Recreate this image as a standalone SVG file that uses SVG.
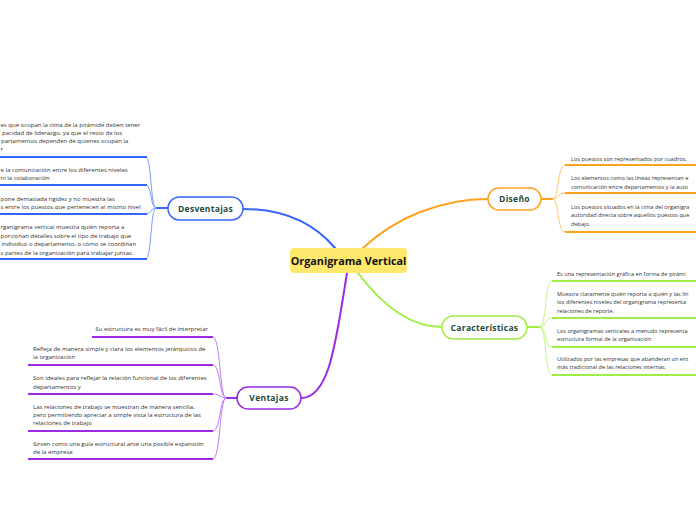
<svg xmlns="http://www.w3.org/2000/svg" width="696" height="520" viewBox="0 0 696 520">
<style>
.t{font-family:"Open Sans","Liberation Sans",sans-serif;font-size:6px;fill:#333333}
.r{font-size:5.6px}
.e{text-anchor:end}
.n{font-family:"Open Sans","Liberation Sans",sans-serif;font-size:8.5px;font-weight:bold;fill:#1b4a3c;text-anchor:middle;letter-spacing:0.3px}
.pill{fill:#ffffff;stroke-width:1.5}
.main{fill:none;stroke-width:2;stroke-linecap:round}
.sub{fill:none;stroke-width:1;stroke-linecap:round}
.ul{fill:none;stroke-width:1.8}
.b{stroke:#3366ff}.o{stroke:#ffa31f}.g{stroke:#a0ee44}.p{stroke:#9c2ae6}
.bl{stroke:#7c9cff}.ol{stroke:#ffc56e}.gl{stroke:#c3f58a}.pl{stroke:#c07bf0}
</style>
<rect width="696" height="520" fill="#ffffff"/>
<g id="connectors">
<path class="main b" d="M243,209 C290,209 318,228 335,248"/>
<path class="main o" d="M363,248 C395,218 440,199 488,199"/>
<path class="main g" d="M358,273 C382,305 410,327 442,327"/>
<path class="main p" d="M347,273 C336,340 330,398 301,398"/>
<path class="main b" d="M168,208 L156,208"/>
<path class="sub bl" d="M156,208 C150,208 152,157 146,157"/>
<path class="sub bl" d="M156,208 C150,208 152,185 146,185"/>
<path class="sub bl" d="M156,208 C150,208 152,214 146,214"/>
<path class="sub bl" d="M156,208 C150,208 152,259 146,259"/>
<path class="main o" d="M541,199 L553,199"/>
<path class="sub ol" d="M553,199 C559,199 557,165 565,165"/>
<path class="sub ol" d="M553,199 C559,199 557,193 565,193"/>
<path class="sub ol" d="M553,199 C559,199 557,232 565,232"/>
<path class="main g" d="M527,327 L540,327"/>
<path class="sub gl" d="M540,327 C547,327 544,281 552,281"/>
<path class="sub gl" d="M540,327 C547,327 544,318 552,318"/>
<path class="sub gl" d="M540,327 C547,327 544,347 552,347"/>
<path class="sub gl" d="M540,327 C547,327 544,375 552,375"/>
<path class="main p" d="M237,398 L226,398"/>
<path class="sub pl" d="M226,398 C219,398 221,337 213,337"/>
<path class="sub pl" d="M226,398 C219,398 221,365 213,365"/>
<path class="sub pl" d="M226,398 C219,398 221,394 213,394"/>
<path class="sub pl" d="M226,398 C219,398 221,431 213,431"/>
<path class="sub pl" d="M226,398 C219,398 221,459 213,459"/>
</g>
<g id="central">
<rect x="290" y="248" width="117" height="25" rx="4" fill="#ffe86b"/>
<text x="348.5" y="265" font-family="'Open Sans','Liberation Sans',sans-serif" font-size="10.8" font-weight="bold" fill="#111111" text-anchor="middle">Organigrama Vertical</text>
</g>
<g id="desventajas">
<rect class="pill b" x="168" y="197" width="75" height="23" rx="11.5"/>
<text class="n" x="205.5" y="211.5">Desventajas</text>
</g>
<g id="diseno">
<rect class="pill o" x="488" y="188" width="53" height="22" rx="11"/>
<text class="n" x="514.5" y="202">Diseño</text>
</g>
<g id="caracteristicas">
<rect class="pill g" x="442" y="316" width="85" height="23" rx="11.5"/>
<text class="n" x="484.5" y="330.5">Características</text>
</g>
<g id="ventajas">
<rect class="pill p" x="237" y="387" width="64" height="22" rx="11"/>
<text class="n" x="269" y="401">Ventajas</text>
</g>
<g id="desventajas-items">
<path class="ul b" d="M0,157 H147 M0,185 H147 M0,214 H147 M0,259 H147"/>
<text class="t" x="0.5" y="127">es que ocupan la cima de la pirámide deben tener</text>
<text class="t" x="2" y="135">pacidad de liderazgo, ya que el resto de los</text>
<text class="t" x="1" y="143">partamentos dependen de quienes ocupan la</text>
<text class="t" x="0.5" y="151">r</text>
<text class="t" x="0.5" y="172">e la comunicación entre los diferentes niveles</text>
<text class="t" x="0.5" y="180">ni la colaboración</text>
<text class="t" x="0.5" y="201">pone demasiada rigidez y no muestra las</text>
<text class="t" x="0.5" y="209">s entre los puestos que pertenecen al mismo nivel</text>
<text class="t" x="0.5" y="229">rganigrama vertical muestra quién reporta a</text>
<text class="t" x="0.5" y="238">porcionan detalles sobre el tipo de trabajo que</text>
<text class="t" x="1.5" y="246">individuo o departamento, o cómo se coordinan</text>
<text class="t" x="0.5" y="255">s partes de la organización para trabajar juntas.</text>
</g>
<g id="diseno-items">
<path class="ul o" d="M565,165 H696 M565,193 H696 M565,232 H696"/>
<text class="t r" x="571" y="161">Los puestos son representados por cuadros.</text>
<text class="t r" x="571" y="180">Los elementos como las líneas representan e</text>
<text class="t r" x="571" y="189">comunicación entre departamentos y la auto</text>
<text class="t r" x="571" y="209">Los puestos situados en la cima del organigra</text>
<text class="t r" x="571" y="217">autoridad directa sobre aquellos puestos que</text>
<text class="t r" x="571" y="226">debajo.</text>
</g>
<g id="caracteristicas-items">
<path class="ul g" d="M552,281 H696 M552,318 H696 M552,347 H696 M552,375 H696"/>
<text class="t r" x="557" y="276">Es una representación gráfica en forma de pirámi</text>
<text class="t r" x="557" y="296">Muestra claramente quién reporta a quién y las lín</text>
<text class="t r" x="557" y="304">los diferentes niveles del organigrama representa</text>
<text class="t r" x="557" y="313">relaciones de reporte.</text>
<text class="t r" x="557" y="333">Los organigramas verticales a menudo representa</text>
<text class="t r" x="557" y="341">estructura formal de la organización</text>
<text class="t r" x="557" y="361">Utilizados por las empresas que abanderan un ent</text>
<text class="t r" x="557" y="369">más tradicional de las relaciones internas.</text>
</g>
<g id="ventajas-items">
<path class="ul p" d="M92,337 H213 M28,365 H213 M28,394 H213 M28,431 H213 M28,459 H213"/>
<text class="t e" x="208" y="331">Su estructura es muy fácil de interpretar</text>
<text class="t" x="33" y="351">Refleja de manera simple y clara los elementos jerárquicos de</text>
<text class="t" x="33" y="359">la organización</text>
<text class="t" x="33" y="380">Son ideales para reflejar la relación funcional de los diferentes</text>
<text class="t" x="33" y="389">departamentos y</text>
<text class="t" x="33" y="409">Las relaciones de trabajo se muestran de manera sencilla,</text>
<text class="t" x="33" y="417">pero permitiendo apreciar a simple vista la estructura de las</text>
<text class="t" x="33" y="425">relaciones de trabajo</text>
<text class="t" x="33" y="446">Sirven como una guía estructural ante una posible expansión</text>
<text class="t" x="33" y="454">de la empresa</text>
</g>
</svg>
